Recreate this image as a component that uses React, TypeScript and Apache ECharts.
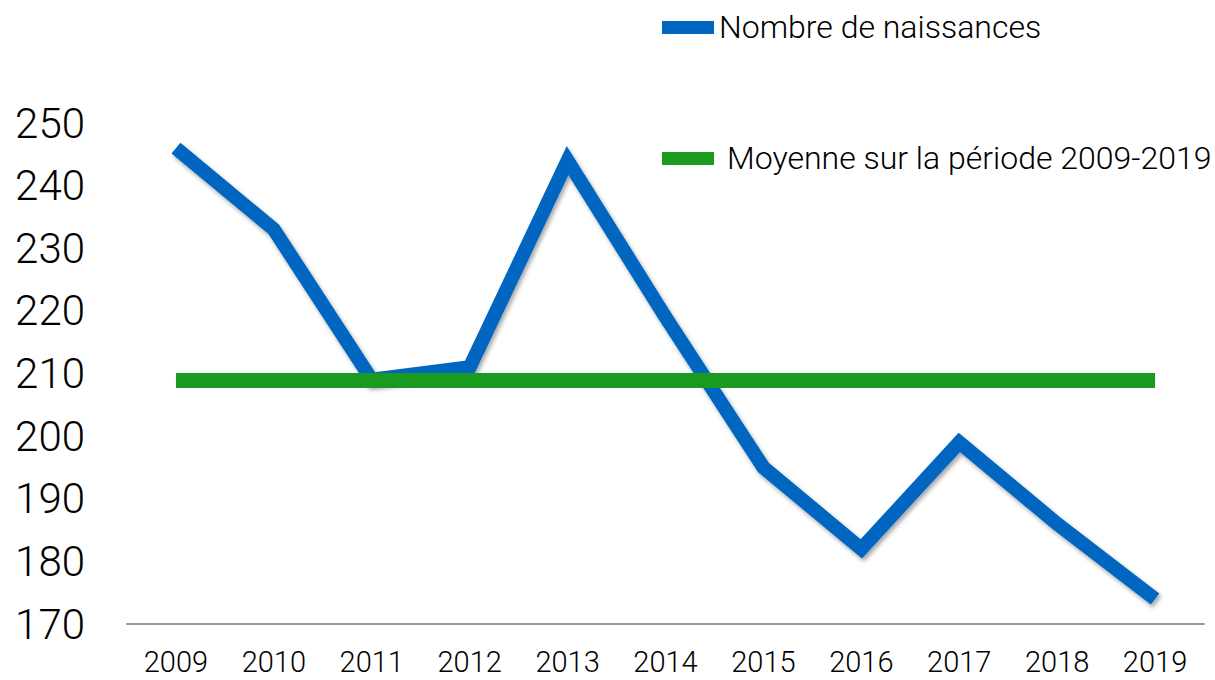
import React, { useEffect, useRef } from "react";
import * as echarts from "echarts";

const years = ["2009", "2010", "2011", "2012", "2013", "2014", "2015", "2016", "2017", "2018", "2019"];
const naissances = [246, 233, 209, 211, 244, 219, 195, 182, 199, 186, 174];
const moyenne = [208.9, 208.9, 208.9, 208.9, 208.9, 208.9, 208.9, 208.9, 208.9, 208.9, 208.9];
const seriesNames = ["Nombre de naissances", "Moyenne sur la période 2009-2019"];

const FONT = "Roboto, 'Liberation Sans', Arial, sans-serif";
const BLUE = "#0066C0";
const GREEN = "#1A9B1F";

export default function App() {
  const ref = useRef<HTMLDivElement>(null);
  useEffect(() => {
    if (!ref.current) return;
    const chart = echarts.init(ref.current, undefined, { renderer: "svg" });
    const legendText = { fontSize: 32, fontWeight: 300, color: "#000", fontFamily: FONT, lineHeight: 38 };
    chart.setOption({
      animation: false,
      backgroundColor: "#ffffff",
      textStyle: { fontFamily: FONT },
      grid: { left: 127, right: 11, top: 123, bottom: 56, containLabel: false },
      legend: [
        {
          data: [{ name: seriesNames[0], icon: "none" }],
          left: 662,
          top: 8,
          itemWidth: 52,
          itemHeight: 13,
          padding: 0,
          selectedMode: false,
          textStyle: legendText,
        },
        {
          data: [{ name: seriesNames[1], icon: "none" }],
          left: 662,
          top: 139,
          itemWidth: 52,
          itemHeight: 13,
          padding: 0,
          selectedMode: false,
          textStyle: { ...legendText, padding: [0, 0, 0, 8] },
        },
      ],
      graphic: [
        { type: "rect", left: 662, top: 21, shape: { width: 52, height: 13 }, style: { fill: BLUE } },
        { type: "rect", left: 662, top: 152, shape: { width: 52, height: 13 }, style: { fill: GREEN } },
      ],
      xAxis: {
        type: "category",
        data: years,
        boundaryGap: true,
        axisLine: { show: true, lineStyle: { color: "#9a9a9a", width: 2 } },
        axisTick: { show: false },
        axisLabel: { fontSize: 29, lineHeight: 30, fontWeight: 300, color: "#000", margin: 23, fontFamily: FONT },
        splitLine: { show: false },
      },
      yAxis: {
        type: "value",
        min: 170,
        max: 250,
        interval: 10,
        axisLine: { show: false },
        axisTick: { show: false },
        splitLine: { show: false },
        axisLabel: { fontSize: 42, fontWeight: 300, color: "#000", margin: 42, fontFamily: FONT },
      },
      series: [
        {
          name: seriesNames[0],
          type: "line",
          data: naissances,
          symbol: "none",
          color: BLUE,
          lineStyle: {
            color: BLUE,
            width: 14,
            cap: "butt",
            join: "miter",
            shadowColor: "rgba(0,0,0,0.35)",
            shadowBlur: 4,
            shadowOffsetX: 2,
            shadowOffsetY: 3,
          },
          z: 2,
        },
        {
          name: seriesNames[1],
          type: "line",
          data: moyenne,
          symbol: "none",
          color: GREEN,
          lineStyle: {
            color: GREEN,
            width: 15,
            cap: "butt",
          },
          z: 3,
        },
      ],
    });
    return () => chart.dispose();
  }, []);
  return <div ref={ref} style={{ width: 1215, height: 680, position: "absolute", left: 0, top: 0 }} />;
}
